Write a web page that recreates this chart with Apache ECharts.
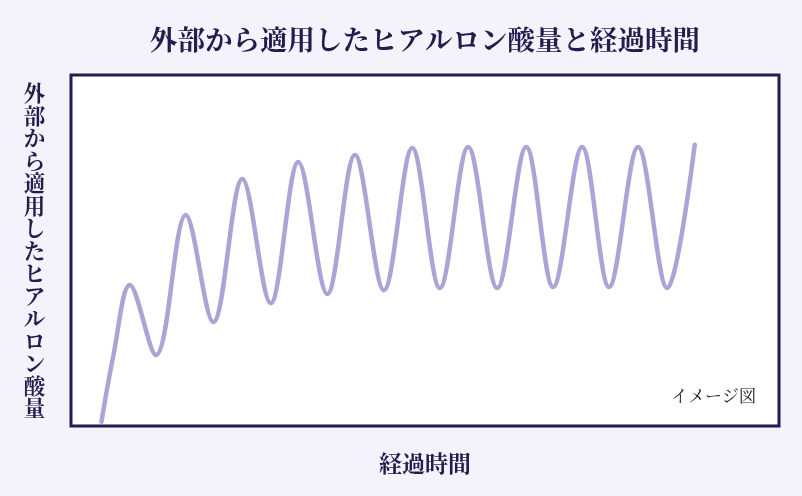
<!DOCTYPE html>
<html><head><meta charset="utf-8">
<script src="https://cdn.jsdelivr.net/npm/echarts@6/dist/echarts.min.js"></script>
<style>html,body{margin:0;padding:0;background:#f4f2fb;}#c{width:802px;height:496px;}</style>
</head><body><div id="c"></div>
<script>
var titleText = '外部から適用したヒアルロン酸量と経過時間';
var yAxisName = '外部から適用したヒアルロン酸量';
var xAxisName = '経過時間';
var noteText = 'イメージ図';
var times = [4.3, 6.0, 8.3, 12.0, 16.2, 20.1, 24.2, 28.2, 32.1, 36.2, 40.1, 44.2, 48.2, 52.1, 56.1, 60.2, 64.3, 68.1, 72.2, 76.0, 80.1, 84.2, 88.1];
var levels = [1.2, 20.2, 40.2, 20.2, 60.1, 29.6, 70.4, 35.0, 75.2, 37.6, 77.2, 38.7, 79.2, 39.3, 79.5, 39.3, 79.5, 39.6, 79.5, 39.6, 79.5, 39.3, 80.1];

var data = times.map(function (t, i) { return [t, levels[i]]; });
var font = '"Noto Serif CJK JP","Noto Sans CJK JP",serif';
var ink = '#231d4d';

var graphics = [
  { type: 'text', x: 425, y: 40, style: { text: titleText, fill: ink, fontSize: 27.5, fontWeight: 'bold', fontFamily: font, align: 'center', verticalAlign: 'middle' } },
  { type: 'text', x: 425, y: 463, style: { text: xAxisName, fill: ink, fontSize: 23, fontWeight: 'bold', fontFamily: font, align: 'center', verticalAlign: 'middle' } },
  { type: 'text', x: 756, y: 396, style: { text: noteText, fill: '#222222', fontSize: 17, fontFamily: font, align: 'right', verticalAlign: 'middle' } }
];
var yChars = yAxisName.split('');
var step = 22.5, firstY = 250.5 - (yChars.length - 1) * step / 2;
yChars.forEach(function (ch, i) {
  graphics.push({ type: 'text', x: 34.5, y: firstY + i * step,
    style: { text: ch, fill: ink, fontSize: 21.5, fontWeight: 'bold', fontFamily: font, align: 'center', verticalAlign: 'middle' } });
});

var chart = echarts.init(document.getElementById('c'));
chart.setOption({
  backgroundColor: '#f4f2fb',
  animation: false,
  grid: {
    left: 71, right: 23, top: 75, bottom: 70,
    show: true, backgroundColor: '#ffffff', borderColor: '#251b4f', borderWidth: 3
  },
  xAxis: {
    type: 'value', min: 0, max: 100,
    axisLine: { show: false }, axisTick: { show: false }, axisLabel: { show: false }, splitLine: { show: false }
  },
  yAxis: {
    type: 'value', min: 0, max: 100,
    axisLine: { show: false }, axisTick: { show: false }, axisLabel: { show: false }, splitLine: { show: false }
  },
  graphic: graphics,
  series: [{
    type: 'line', data: data, smooth: 0.35, symbol: 'none',
    lineStyle: { width: 4.5, color: '#a9a5d6', cap: 'round' }
  }]
});
</script></body></html>
